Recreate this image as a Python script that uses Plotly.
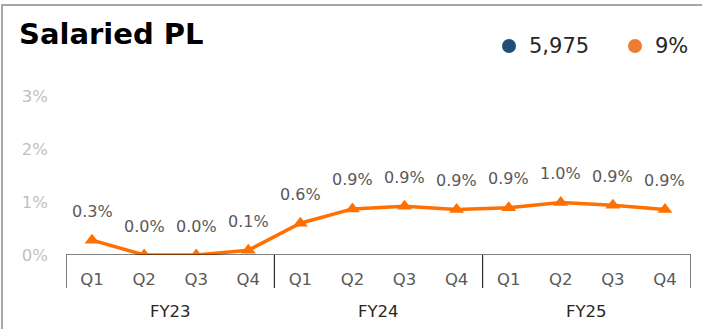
import plotly.graph_objects as go

# Quarterly salaried PL rate (percent)
quarters = ["Q1", "Q2", "Q3", "Q4"] * 3
fiscal_years = ["FY23", "FY24", "FY25"]
rate_pct = [0.28, 0.0, 0.0, 0.09, 0.6, 0.87, 0.92, 0.86, 0.89, 0.99, 0.94, 0.86]
y_ticks = [0, 1, 2, 3]
legend_labels = ["5,975", "9%"]
legend_colors = ["#1F4E79", "#ED7D31"]

W, H = 702, 329
L, R, T, B = 66, 11, 96, 74
plot_w, plot_h = W - L - R, H - T - B


def px_x(px):
    return (px - L) / plot_w


def px_y(py):
    return (H - B - py) / plot_h


FONT = "DejaVu Sans"
x_idx = list(range(len(rate_pct)))

fig = go.Figure()
fig.add_trace(go.Scatter(
    x=x_idx, y=rate_pct, mode="lines+markers",
    line=dict(color="#FF7000", width=3.5),
    marker=dict(symbol="triangle-up", size=13, color="#FF7000"),
    hoverinfo="skip", showlegend=False,
))

annotations = []
# value labels above each point
for i, v in enumerate(rate_pct):
    annotations.append(dict(
        x=i, y=v, xref="x", yref="y", text=f"{v:.1f}%", showarrow=False,
        yshift=29, font=dict(family=FONT, size=16, color="#595959"),
    ))
# fiscal-year group labels
for g, fy in enumerate(fiscal_years):
    annotations.append(dict(
        x=g * 4 + 1.5, y=px_y(311), xref="x", yref="paper", text=fy,
        showarrow=False, yanchor="middle",
        font=dict(family=FONT, size=16.5, color="#262626"),
    ))
# title
annotations.append(dict(
    x=px_x(17), y=px_y(34), xref="paper", yref="paper", text="<b>Salaried PL</b>",
    showarrow=False, xanchor="left", yanchor="middle",
    font=dict(family=FONT, size=29, color="#000000"),
))
# legend entries
legend_pos = [(509, 527), (635, 653)]
shapes = []
for (dot_x, txt_x), lab, col in zip(legend_pos, legend_labels, legend_colors):
    shapes.append(dict(
        type="circle", xref="paper", yref="paper", xsizemode="pixel", ysizemode="pixel",
        xanchor=px_x(dot_x), yanchor=px_y(46), x0=-7, x1=7, y0=-7, y1=7,
        fillcolor=col, line=dict(width=0),
    ))
    annotations.append(dict(
        x=px_x(txt_x), y=px_y(46), xref="paper", yref="paper", text=lab,
        showarrow=False, xanchor="left", yanchor="middle",
        font=dict(family=FONT, size=21, color="#262626"),
    ))

# category axis baseline and group dividers
shapes.append(dict(type="line", xref="x", yref="y", x0=-0.5, x1=len(rate_pct) - 0.5,
                   y0=0, y1=0, line=dict(color="#000000", width=1)))
for xd in [-0.5, 3.5, 7.5, 11.5]:
    shapes.append(dict(type="line", xref="x", yref="paper", x0=xd, x1=xd,
                       y0=0, y1=px_y(288), line=dict(color="#000000", width=1)))
# outer frame
shapes.append(dict(type="rect", xref="paper", yref="paper",
                   x0=px_x(2), x1=px_x(740), y0=px_y(360), y1=px_y(5),
                   line=dict(color="#A6A6A6", width=2), fillcolor="rgba(0,0,0,0)"))

fig.update_layout(
    width=W, height=H, margin=dict(l=L, r=R, t=T, b=B),
    paper_bgcolor="white", plot_bgcolor="white",
    xaxis=dict(range=[-0.5, len(rate_pct) - 0.5], tickvals=x_idx, ticktext=quarters,
               showgrid=False, zeroline=False, showline=False, ticks="",
               ticklabelstandoff=12,
               tickfont=dict(family=FONT, size=16.5, color="#595959")),
    yaxis=dict(range=[0, 3], tickvals=y_ticks, ticktext=[f"{t}%" for t in y_ticks],
               showgrid=False, zeroline=False, showline=False, ticks="",
               ticklabelstandoff=17,
               tickfont=dict(family=FONT, size=16.5, color="#BFBFBF")),
    annotations=annotations, shapes=shapes, showlegend=False,
)

fig.write_html("out.html")
